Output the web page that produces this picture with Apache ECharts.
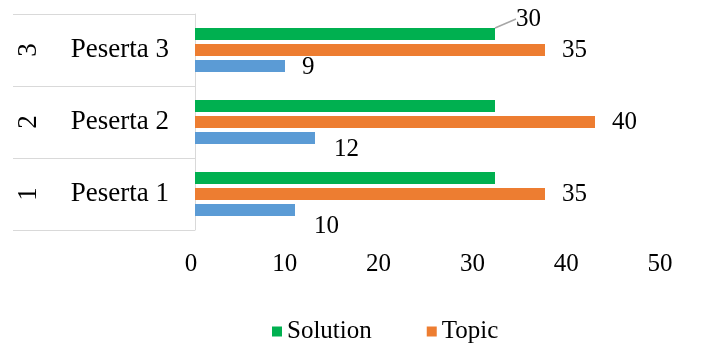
<!DOCTYPE html>
<html>
<head>
<meta charset="utf-8">
<script src="https://cdn.jsdelivr.net/npm/echarts@6/dist/echarts.min.js"></script>
<style>
  html, body { margin: 0; padding: 0; background: #fff; }
  #chart { width: 711px; height: 344px; }
</style>
</head>
<body>
<div id="chart"></div>
<script>
const categories = ['Peserta 1', 'Peserta 2', 'Peserta 3']
const groupLabels = ['1', '2', '3']
const solution = [30, 30, 30]
const topic = [35, 40, 35]
const third = [10, 12, 9]
const valueTicks = [0, 10, 20, 30, 40, 50]

const font = "'Liberation Serif', 'Times New Roman', serif"
const txt = { fontFamily: font, fontSize: 25, color: '#000' }
const catTxt = { fontFamily: font, fontSize: 27, color: '#000' }

// offsets of the blue labels (they sit a bit lower in the original)
const blueOffsets = [[2, 16], [2, 11], [0, 1]]

const chart = echarts.init(document.getElementById('chart'))
chart.setOption({
  animation: false,
  textStyle: { fontFamily: font },
  legend: {
    data: ['Solution', 'Topic'],
    left: 267,
    top: 314,
    icon: 'rect',
    itemWidth: 10,
    itemHeight: 10,
    itemGap: 55,
    textStyle: txt
  },
  grid: [
    { left: 195, right: 16, top: 14, bottom: 114 },
    { left: 191, right: 51, top: 14, bottom: 114 }
  ],
  xAxis: [{
    type: 'value',
    gridIndex: 0,
    min: valueTicks[0],
    max: valueTicks[valueTicks.length - 1],
    interval: valueTicks[1] - valueTicks[0],
    axisLine: { show: false },
    axisTick: { show: false },
    axisLabel: { show: false },
    splitLine: { show: false }
  }, {
    // tick labels only, as placed in the original
    type: 'value',
    gridIndex: 1,
    min: valueTicks[0],
    max: valueTicks[valueTicks.length - 1],
    interval: valueTicks[1] - valueTicks[0],
    axisLine: { show: false },
    axisTick: { show: false },
    splitLine: { show: false },
    axisLabel: Object.assign({ margin: 22 }, txt)
  }],
  yAxis: [{
    type: 'category',
    gridIndex: 0,
    data: categories,
    axisLine: { show: true, lineStyle: { color: '#d9d9d9', width: 1 } },
    axisTick: { show: true, length: 182, lineStyle: { color: '#d9d9d9', width: 1 } },
    axisLabel: Object.assign({ margin: 26 }, catTxt)
  }, {
    type: 'category',
    gridIndex: 0,
    position: 'left',
    data: groupLabels,
    axisLine: { show: false },
    axisTick: { show: false },
    axisLabel: Object.assign({ margin: 153, rotate: 90 }, catTxt)
  }, {
    type: 'category',
    gridIndex: 1,
    data: categories,
    show: false
  }],
  series: [{
    name: 'Solution',
    type: 'bar',
    barWidth: 12,
    barGap: '33%',
    itemStyle: { color: '#00b050' },
    label: Object.assign({ show: false, position: 'right', distance: 17 }, txt),
    labelLine: { show: true, lineStyle: { color: '#a6a6a6', width: 1.5 } },
    labelLayout: { dx: 4, dy: -15 },
    data: solution.map((v, i) => i === 2 ? { value: v, label: { show: true } } : v)
  }, {
    name: 'Topic',
    type: 'bar',
    barWidth: 12,
    barGap: '33%',
    itemStyle: { color: '#ed7d31' },
    label: Object.assign({ show: true, position: 'right', distance: 17 }, txt),
    data: topic
  }, {
    name: 'Data',
    type: 'bar',
    barWidth: 12,
    barGap: '33%',
    itemStyle: { color: '#5b9bd5' },
    label: Object.assign({ show: true, position: 'right', distance: 17 }, txt),
    data: third.map((v, i) => ({ value: v, label: { offset: blueOffsets[i] } }))
  }]
})
</script>
</body>
</html>
